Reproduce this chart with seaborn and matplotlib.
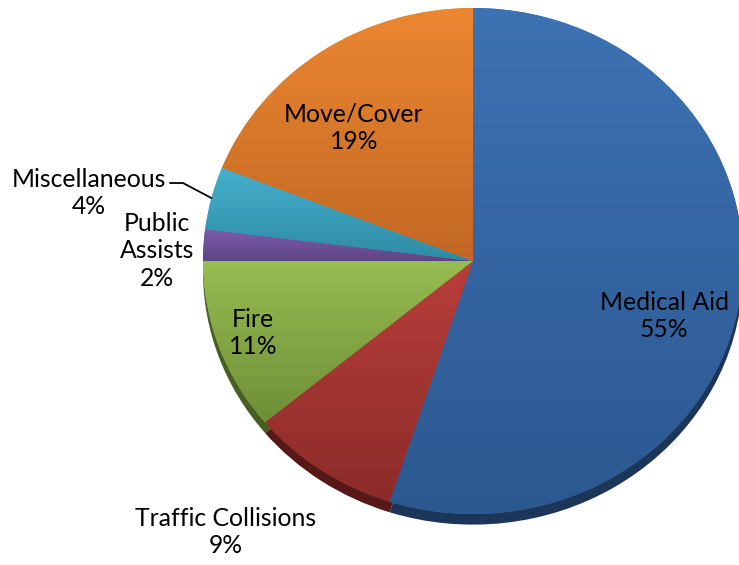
import matplotlib.pyplot as plt
import matplotlib.colors as mcolors
import numpy as np
import seaborn as sns

# Call types and their share of incidents (%), clockwise from 12 o'clock
categories = ["Medical Aid", "Traffic Collisions", "Fire", "Public\nAssists", "Miscellaneous", "Move/Cover"]
shares = [55, 9, 11, 2, 4, 19]

# gradient colours per slice (top -> bottom) and the darker 3D edge
top_colors = ["#3D72B3", "#B93F3B", "#98BD52", "#7D5CA8", "#45B0CD", "#EC8731"]
bottom_colors = ["#2C5890", "#8B2B29", "#6E8E37", "#5E4487", "#2F8BA5", "#C26824"]
edge_colors = ["#1C365A", "#561917", "#485E22", "#3C2A58", "#1D5A6B", "#7E4215"]

# label block centres in image pixels
label_px = [(664, 316), (226, 532), (253, 333), (157, 251), (89, 193), (354, 128)]

sns.set_theme(style="white")
plt.rcParams['font.family'] = ['Lato', 'DejaVu Sans']

W, H = 739, 565
fig = plt.figure(figsize=(W / 100, H / 100), dpi=100)
ax = fig.add_axes([0, 0, 1, 1])

# pie centre and radii in pixels (the pie is slightly squashed vertically)
cx, cy = 473, 261
rx, ry = 270, 253


def to_data(px, py):
    return (px - cx) / rx, (cy - py) / ry


# 3D depth: same pie shifted a little down, drawn first
ax.pie(shares, startangle=90, counterclock=False, colors=edge_colors,
       center=(0, -0.042), wedgeprops=dict(linewidth=0))

wedges, _ = ax.pie(shares, startangle=90, counterclock=False, colors=top_colors,
                   wedgeprops=dict(linewidth=0))

grad = np.linspace(0, 1, 256).reshape(-1, 1)
for w, c_top, c_bot in zip(wedges, top_colors, bottom_colors):
    bb = w.get_path().get_extents()
    cmap = mcolors.LinearSegmentedColormap.from_list("g", [c_top, c_bot])
    im = ax.imshow(grad, extent=(bb.x0, bb.x1, bb.y0, bb.y1), origin="upper",
                   cmap=cmap, aspect="auto", zorder=2, interpolation="bilinear")
    im.set_clip_path(w)

for cat, share, (px, py) in zip(categories, shares, label_px):
    x, y = to_data(px, py)
    ax.text(x, y, f"{cat}\n{share}%", ha="center", va="center", fontsize=17.8,
            linespacing=1.25, color="black", zorder=4)

# leader line for Miscellaneous
misc = wedges[categories.index("Miscellaneous")]
mid = np.deg2rad((misc.theta1 + misc.theta2) / 2)
x0, y0 = to_data(170, 183)
x1, _ = to_data(183, 183)
ax.plot([x0, x1, np.cos(mid)], [y0, y0, np.sin(mid)], color="black", lw=1.3, zorder=4)

ax.set_aspect("auto")
ax.set_xlim(to_data(0, 0)[0], to_data(W, 0)[0])
ax.set_ylim(to_data(0, H)[1], to_data(0, 0)[1])
ax.axis("off")

fig.savefig("out.png", dpi=100, facecolor="white")
